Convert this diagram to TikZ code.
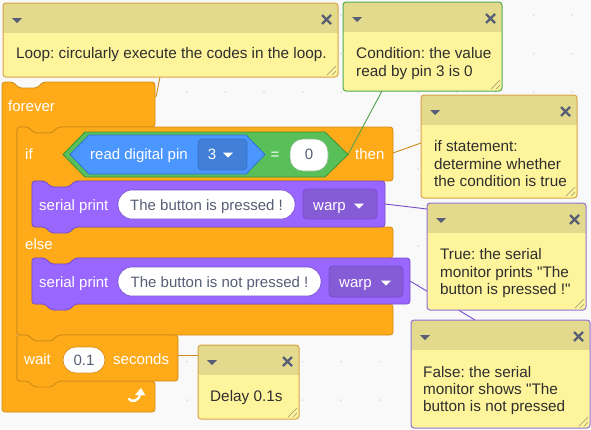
\documentclass[tikz,border=0pt]{standalone}
\usepackage{fontspec}
\setmainfont{Liberation Sans}
\newfontfamily\skf{Liberation Sans}
\frenchspacing
\definecolor{bg}{HTML}{F9F9F9}
\definecolor{dotc}{HTML}{DCDCDC}
\definecolor{ctl}{HTML}{FFAB19}
\definecolor{ctlb}{HTML}{CF8B17}
\definecolor{pur}{HTML}{9966FF}
\definecolor{purb}{HTML}{774DCB}
\definecolor{purd}{HTML}{855CD6}
\definecolor{grn}{HTML}{59C059}
\definecolor{grnb}{HTML}{389438}
\definecolor{blu}{HTML}{4C97FF}
\definecolor{blub}{HTML}{3373CC}
\definecolor{blud}{HTML}{4280D7}
\definecolor{chead}{HTML}{E3DA8D}
\definecolor{cbody}{HTML}{FEF49C}
\definecolor{ctxt}{HTML}{2E2E2E}
\definecolor{icon}{HTML}{575E75}
\definecolor{ovaltxt}{HTML}{575E75}
\definecolor{grip}{HTML}{A8A27A}
\tikzset{
  blk/.style={line width=0.8, rounded corners=3, line join=round},
  ctlblk/.style={blk, fill=ctl, draw=ctlb},
  purblk/.style={blk, fill=pur, draw=purb},
  bt/.style={text=white, font=\skf\frenchspacing\fontsize{15}{18}\selectfont, inner sep=0, text height=10.7pt, text depth=0pt},
  ot/.style={bt, text=ovaltxt},
  ct/.style={bt, text=ctxt, anchor=west, font=\skf\frenchspacing\fontsize{15.3}{18}\selectfont},
  link/.style={line width=0.9},
  ovalin/.style={fill=white, line width=0.6, rounded corners=13},
  ddbox/.style={line width=0.8, rounded corners=4},
}
\newcommand{\skcomment}[6]{%
  \begin{scope}
    \clip[rounded corners=3] (#2,#3) rectangle (#4,#5);
    \fill[cbody] (#2,#3) rectangle (#4,#5);
    \fill[chead] (#2,#3) rectangle (#4,{#3+29.5});
  \end{scope}
  \draw[#6, line width=1, rounded corners=3] (#2,#3) rectangle (#4,#5);
  \coordinate (#1) at (#2,#3);
  \fill[icon] ({#2+9},{#3+15}) -- ({#2+19},{#3+15}) -- ({#2+14},{#3+20}) -- cycle;
  \draw[icon, line width=2.3] ({#4-16},{#3+12}) -- ({#4-7},{#3+21}) ({#4-16},{#3+21}) -- ({#4-7},{#3+12});
  \draw[grip, line width=0.7] ({#4-11},{#5-2}) -- ({#4-2},{#5-11}) ({#4-6},{#5-2}) -- ({#4-2},{#5-6});
}
\newcommand{\ddtri}[2]{\fill[white] ({#1-5},{#2-2.5}) -- ({#1+5},{#2-2.5}) -- (#1,{#2+2.5}) -- cycle;}
\begin{document}
\begin{tikzpicture}[x=1pt,y=-1pt]
\fill[bg] (0,0) rectangle (591,429);
\useasboundingbox (0,0) rectangle (591,429);
\foreach \i in {0,...,14}{\foreach \j in {0,...,10}{\fill[dotc] ({33+38.5*\i},{15+38.5*\j}) circle (1);}}

% forever C block
\draw[ctlblk] (2,82) -- (13,82) -- (19,88) -- (37,88) -- (43,82) -- (155,82) -- (155,127)
  -- (58,127) -- (52,133) -- (34,133) -- (28,127) -- (17,127) -- (17,381) -- (155,381)
  -- (155,412) -- (2,412) -- cycle;
% if-else block
\draw[ctlblk] (17,127) -- (28,127) -- (34,133) -- (52,133) -- (58,127) -- (393,127) -- (393,181)
  -- (75,181) -- (69,187) -- (51,187) -- (45,181) -- (32,181) -- (32,227) -- (393,227) -- (393,258)
  -- (75,258) -- (69,264) -- (51,264) -- (45,258) -- (32,258) -- (32,304) -- (393,304) -- (393,335)
  -- (58,335) -- (52,341) -- (34,341) -- (28,335) -- (17,335) -- cycle;
% condition
\draw[fill=grn, draw=grnb, line width=0.8, line join=round] (63,154.5) -- (85,132) -- (325,132) -- (348,154.5) -- (325,177) -- (85,177) -- cycle;
\draw[fill=blu, draw=blub, line width=0.8, line join=round] (70,154.5) -- (89,135) -- (246,135) -- (265,154.5) -- (246,174) -- (89,174) -- cycle;
\draw[ddbox, fill=blud, draw=blub] (198,139) rectangle (247,170);
\draw[ovalin, draw=grn!70!black!60] (290,139) rectangle (328,171);
% serial print 1
\draw[purblk] (32,181) -- (45,181) -- (51,187) -- (69,187) -- (75,181) -- (385,181) -- (385,227)
  -- (75,227) -- (69,233) -- (51,233) -- (45,227) -- (32,227) -- cycle;
\draw[ovalin, draw=purb, rounded corners=14] (118,190) rectangle (295,219);
\draw[ddbox, fill=purd, draw=purb] (303,189) rectangle (377,219);
% serial print 2
\draw[purblk] (32,258) -- (45,258) -- (51,264) -- (69,264) -- (75,258) -- (410,258) -- (410,304)
  -- (75,304) -- (69,310) -- (51,310) -- (45,304) -- (32,304) -- cycle;
\draw[ovalin, draw=purb, rounded corners=14] (118,267) rectangle (321,296);
\draw[ddbox, fill=purd, draw=purb] (329,266) rectangle (403,297);
% wait
\draw[ctlblk] (17,335) -- (28,335) -- (34,341) -- (52,341) -- (58,335) -- (178,335) -- (178,381)
  -- (58,381) -- (52,387) -- (34,387) -- (28,381) -- (17,381) -- cycle;
\draw[ovalin, draw=ctlb] (63,347) rectangle (105,373);

% block texts
\node[bt, anchor=west] (tforever) at (8,106) {forever};
\node[bt, anchor=west] (tif) at (25,154) {if};
\node[bt, anchor=west] (tread) at (90,154) {read digital pin};
\node[bt] (tpin) at (212,154) {3};
\ddtri{228}{155}
\node[bt] (teq) at (275,154) {=};
\node[ot] (tzero) at (309,154) {0};
\node[bt, anchor=west] (tthen) at (355,154) {then};
\node[bt, anchor=west] (tsp1) at (39,205) {serial print};
\node[ot] (tmsg1) at (206.5,205) {The button is pressed !};
\node[bt, anchor=west] (twarp1) at (313,205) {warp};
\ddtri{359}{206}
\node[bt, anchor=west] (telse) at (25,244) {else};
\node[bt, anchor=west] (tsp2) at (39,282) {serial print};
\node[ot] (tmsg2) at (219.5,282) {The button is not pressed !};
\node[bt, anchor=west] (twarp2) at (339,282) {warp};
\ddtri{386}{283}
\node[bt, anchor=west] (twait) at (24,359) {wait};
\node[ot] (tdelay) at (84,360) {0.1};
\node[bt, anchor=west] (tsec) at (113,359) {seconds};
% loop arrow
\draw[white, line width=2.3, line cap=round] (129,399) .. controls (131,402) and (139,402) .. (140,394);
\fill[white] (135,395) -- (141,388) -- (145.5,395.5) -- cycle;

% connector end points
\coordinate (kForever) at (156,97);
\coordinate (kLoop) at (160,77);
\coordinate (kCondPt) at (348,154.5);
\coordinate (kCond) at (382,91);
\coordinate (kThen) at (393,153);
\coordinate (kIf) at (421,143);
\coordinate (kSp1) at (385,204);
\coordinate (kTrue) at (427,209);
\coordinate (kSp2) at (410,281);
\coordinate (kFalse) at (475,320);
\coordinate (kWait) at (178,355);
\coordinate (kDelay) at (198,355);
\draw[link, draw=ctlb] (kForever) -- (kLoop);
\draw[link, draw=grn!85!black] (kCondPt) -- (kCond);
\draw[link, draw=ctlb] (kThen) -- (kIf);
\draw[link, draw=purb] (kSp1) -- (kTrue);
\draw[link, draw=purb] (kSp2) -- (kFalse);
\draw[link, draw=ctlb] (kWait) -- (kDelay);

% comments
\skcomment{cLoop}{3}{3}{338}{77}{ctlb!80}
\node[ct] (xLoop) at (16,53) {Loop: circularly execute the codes in the loop.};
\skcomment{cCond}{343}{2}{502}{91}{grn!90!black}
\node[ct] (xCond1) at (356,53) {Condition: the value};
\node[ct] (xCond2) at (356,71) {read by pin 3 is 0};
\skcomment{cIf}{421}{95}{577}{198}{ctlb!80}
\node[ct] (xIf1) at (434,146) {if statement:};
\node[ct] (xIf2) at (434,164) {determine whether};
\node[ct] (xIf3) at (434,181) {the condition is true};
\skcomment{cTrue}{427}{203}{586}{310}{purb!80}
\node[ct] (xTrue1) at (440,254) {True: the serial};
\node[ct] (xTrue2) at (440,272) {monitor prints "The};
\node[ct] (xTrue3) at (440,289) {button is pressed !"};
\skcomment{cFalse}{411}{320}{590}{428}{purb!80}
\node[ct] (xFalse1) at (423,372) {False: the serial};
\node[ct] (xFalse2) at (423,389) {monitor shows "The};
\node[ct] (xFalse3) at (423,406) {button is not pressed};
\skcomment{cDelay}{198}{345}{299}{419}{ctlb!80}
\node[ct] (xDelay) at (210,396) {Delay 0.1s};
\end{tikzpicture}
\end{document}
